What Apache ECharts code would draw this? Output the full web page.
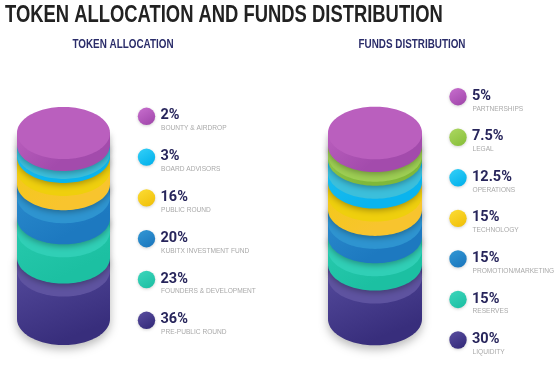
<!DOCTYPE html>
<html><head><meta charset="utf-8">
<script src="https://cdn.jsdelivr.net/npm/echarts@6/dist/echarts.min.js"></script>
<style>html,body{margin:0;padding:0;background:#fff}#c{width:560px;height:368px}</style>
</head><body><div id="c"></div>
<script>
// ---------- data ----------
const mainTitle = 'TOKEN ALLOCATION AND FUNDS DISTRIBUTION';
const tokenTitle = 'TOKEN ALLOCATION';
const fundsTitle = 'FUNDS DISTRIBUTION';
// listed top to bottom, as in the legends
const tokenLabels = ['BOUNTY & AIRDROP','BOARD ADVISORS','PUBLIC ROUND','KUBITX INVESTMENT FUND','FOUNDERS & DEVELOPMENT','PRE-PUBLIC ROUND'];
const tokenValues = [2, 3, 16, 20, 23, 36];
const fundsLabels = ['PARTNERSHIPS','LEGAL','OPERATIONS','TECHNOLOGY','PROMOTION/MARKETING','RESERVES','LIQUIDITY'];
const fundsValues = [5, 7.5, 12.5, 15, 15, 15, 30];

// ---------- styles ----------
const tokenColorKeys = ['purple','cyan','yellow','blue','teal','indigo'];
const fundsColorKeys = ['purple','green','cyan','yellow','blue','teal','indigo'];
const PAL = {
  purple: {dot:['#C86FCE','#A44AAE'], face:'#BA5FBE', side:['#B95EBD','#A34BAC']},
  cyan:   {dot:['#35D0F8','#06B3EC'], face:'#3CBFDB', side:['#1DBDEE','#0AB4EE']},
  green:  {dot:['#ADD862','#8BC13D'], face:'#9DCE53', side:['#93C849','#7FB83A']},
  yellow: {dot:['#FCDD36','#F1C20C'], face:'#EFCF0D', side:['#F2CA14','#F8C42E']},
  blue:   {dot:['#3398D5','#1C79BF'], face:'#2E94D0', side:['#2A8BCD','#1D79C0']},
  teal:   {dot:['#3DD6BC','#1FC1A5'], face:'#30CFB6', side:['#28CAAE','#1CC0A2']},
  indigo: {dot:['#5A4FA0','#362C7C'], face:'#5E53A0', side:['#564C9E','#382E7C']}
};
const MIN_SHOWN = 7; // thin layers are drawn at least this thick so they stay visible

function grad(a, b, x2, y2) {
  return new echarts.graphic.LinearGradient(0, 0, x2, y2, [{offset:0,color:a},{offset:1,color:b}]);
}

function stackData(values) {
  const n = values.length; let acc = 0; const out = [];
  for (let i = n - 1; i >= 0; i--) {
    const s = Math.max(values[i], MIN_SHOWN);
    out.push({value: [0, acc, acc + s, i, i === 0 ? 1 : 0, n - 1 - i]});
    acc += s;
  }
  return {data: out, total: acc};
}

function makeRender(keys) {
  return function (params, api) {
    const cx = api.coord([0, 0])[0];
    const rx = api.coord([1, 0])[0] - cx;
    const ry = rx * 0.56;
    const yb = api.coord([0, api.value(1)])[1];
    const yt = api.coord([0, api.value(2)])[1];
    const idx = api.value(3), isTop = api.value(4), lvl = api.value(5);
    const p = PAL[keys[idx]];
    const gap = isTop ? 0 : Math.max(0, Math.min(13, (yb - yt) - 4));
    const yf = yt + gap;
    const N = 60;
    const side = [[cx - rx, yt], [cx + rx, yt]];
    for (let k = 0; k <= N; k++) {
      const a = Math.PI * k / N;
      side.push([cx + rx * Math.cos(a), yb + ry * Math.sin(a)]);
    }
    const face = [];
    for (let k = 0; k < 2 * N; k++) {
      const a = Math.PI * k / N;
      face.push([cx + rx * Math.cos(a), yf + ry * Math.sin(a)]);
    }
    const bottom = lvl === 0;
    return {
      type: 'group',
      children: [
        {type:'polygon', z2: lvl * 10, shape:{points: side},
         style:{fill: grad(p.side[0], p.side[1], 0.35, 1),
                shadowBlur: bottom ? 10 : 6,
                shadowColor: bottom ? 'rgba(0,0,0,0.28)' : 'rgba(0,0,0,0.30)',
                shadowOffsetY: bottom ? 4 : 2}},
        {type:'polygon', z2: lvl * 10 + 1, shape:{points: face},
         style:{fill: p.face}}
      ]
    };
  };
}

const tok = stackData(tokenValues);
const fun = stackData(fundsValues);

const graphics = [];
function txt(x, y, text, size, weight, color, family, align, sx) {
  graphics.push({type:'text', x: x, y: y, scaleX: sx || 1, silent: true,
    style:{text: text, fontSize: size, fontWeight: weight, fill: color,
           fontFamily: family, textAlign: align || 'left', textVerticalAlign: 'middle'}});
}
const HEAD = '"Liberation Sans", Arial, sans-serif';
txt(5, 16, mainTitle, 23, 'bold', '#222222', HEAD, 'left', 0.80);
txt(123, 45, tokenTitle, 12.5, 'bold', '#2B2D6A', HEAD, 'center', 0.79);
txt(412, 45, fundsTitle, 12.5, 'bold', '#2B2D6A', HEAD, 'center', 0.79);

function legend(labels, values, keys, bx, by0, step) {
  labels.forEach(function (lab, i) {
    const cy = by0 + i * step;
    const p = PAL[keys[i]];
    graphics.push({type:'circle', shape:{cx: bx, cy: cy, r: 8.7}, silent: true,
      style:{fill: grad(p.dot[0], p.dot[1], 0.6, 1), shadowBlur: 3,
             shadowColor:'rgba(0,0,0,0.18)', shadowOffsetY: 1}});
    txt(bx + 14, cy - 0.5, values[i] + '%', 14.5, 'bold', '#27255B', 'Roboto, "Liberation Sans", sans-serif');
    txt(bx + 14.5, cy + 12, lab, 6.6, 'normal', '#A9A9A9', '"Liberation Sans", Arial, sans-serif');
  });
}
legend(tokenLabels, tokenValues, tokenColorKeys, 146.5, 116.3, 40.8);
legend(fundsLabels, fundsValues, fundsColorKeys, 458, 96.7, 40.55);

const chart = echarts.init(document.getElementById('c'), null, {renderer: 'canvas'});
chart.setOption({
  backgroundColor: '#ffffff',
  animation: false,
  grid: [
    {left: 17, width: 93, top: 133, height: 186},
    {left: 328, width: 94, top: 133, height: 186}
  ],
  xAxis: [
    {type:'value', gridIndex:0, min:-1, max:1, show:false},
    {type:'value', gridIndex:1, min:-1, max:1, show:false}
  ],
  yAxis: [
    {type:'value', gridIndex:0, min:0, max:tok.total, show:false},
    {type:'value', gridIndex:1, min:0, max:fun.total, show:false}
  ],
  series: [
    {type:'custom', xAxisIndex:0, yAxisIndex:0, encode:{x:0, y:2}, clip:false,
     renderItem: makeRender(tokenColorKeys), data: tok.data},
    {type:'custom', xAxisIndex:1, yAxisIndex:1, encode:{x:0, y:2}, clip:false,
     renderItem: makeRender(fundsColorKeys), data: fun.data}
  ],
  graphic: graphics
});
</script>
</body></html>
